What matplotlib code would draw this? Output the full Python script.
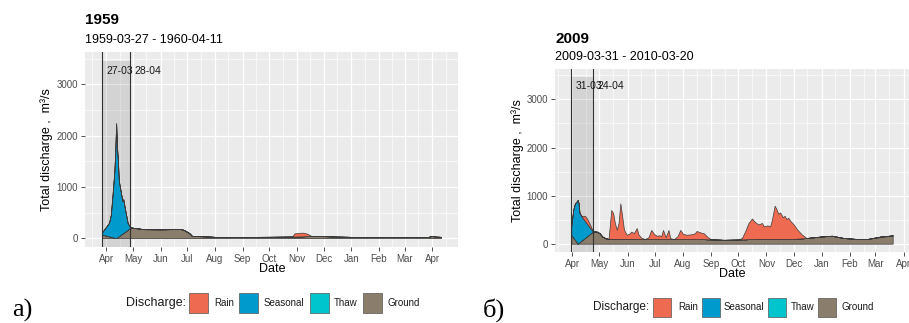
import matplotlib
matplotlib.use('Agg')
import matplotlib.pyplot as plt
import matplotlib.dates as mdates
from matplotlib.patches import Rectangle
from matplotlib.ticker import MultipleLocator, FixedLocator
import pandas as pd

plt.rcParams['font.family'] = ['Liberation Sans', 'DejaVu Sans']

# === 图例/颜色 ===
series_names = ['Rain', 'Seasonal', 'Thaw', 'Ground']
series_colors = {'Rain': '#EE6A50', 'Seasonal': '#009ACD', 'Thaw': '#00C5CD', 'Ground': '#8B7D6B'}

# === 1959 ===
dates_1959 = ['1959-03-27', '1959-04-04', '1959-04-06', '1959-04-08', '1959-04-10', '1959-04-11',
              '1959-04-12', '1959-04-13', '1959-04-14', '1959-04-15', '1959-04-17', '1959-04-19',
              '1959-04-20', '1959-04-21', '1959-04-23', '1959-04-25', '1959-04-28', '1959-05-02',
              '1959-05-13', '1959-06-01', '1959-06-15', '1959-06-23', '1959-06-27', '1959-07-03',
              '1959-07-06', '1959-07-20', '1959-08-01', '1959-09-01', '1959-10-01', '1959-10-27',
              '1959-10-29', '1959-11-02', '1959-11-08', '1959-11-13', '1959-11-17', '1959-12-01',
              '1959-12-15', '1960-01-01', '1960-02-01', '1960-03-01', '1960-03-28', '1960-04-01',
              '1960-04-04', '1960-04-11']
ground_1959 = [70, 35, 26, 17, 8, 4,
               0, 12, 25, 38, 63, 88,
               100, 112, 137, 162, 210, 200,
               175, 172, 176, 180, 160, 100,
               45, 35, 25, 24, 26, 30,
               30, 32, 35, 40, 45, 40,
               30, 25, 22, 22, 25, 45,
               30, 25]
seasonal_1959 = [40, 265, 430, 843, 1300, 1700,
                 2240, 1750, 1475, 1082, 857, 637,
                 660, 548, 333, 128, 0, 0,
                 0, 0, 0, 0, 0, 0,
                 0, 0, 0, 0, 0, 0,
                 0, 0, 0, 0, 0, 0,
                 0, 0, 0, 0, 0, 0,
                 0, 0]
rain_1959 = [0] * 30 + [60, 70, 72, 45, 0] + [0] * 9
thaw_1959 = [0] * 44

# === 2009 ===
dates_2009 = ['2009-03-31', '2009-04-02', '2009-04-04', '2009-04-06', '2009-04-07', '2009-04-08',
              '2009-04-09', '2009-04-11', '2009-04-13', '2009-04-15', '2009-04-17', '2009-04-19',
              '2009-04-21', '2009-04-22', '2009-04-24', '2009-04-28', '2009-05-01', '2009-05-04',
              '2009-05-08', '2009-05-11', '2009-05-14', '2009-05-16', '2009-05-18', '2009-05-20',
              '2009-05-22', '2009-05-24', '2009-05-26', '2009-05-28', '2009-05-31', '2009-06-03',
              '2009-06-05', '2009-06-08', '2009-06-11', '2009-06-13', '2009-06-16', '2009-06-20',
              '2009-06-24', '2009-06-27', '2009-06-30', '2009-07-03', '2009-07-06', '2009-07-08',
              '2009-07-10', '2009-07-13', '2009-07-16', '2009-07-18', '2009-07-22', '2009-07-26',
              '2009-07-29', '2009-08-01', '2009-08-05', '2009-08-10', '2009-08-14', '2009-08-16',
              '2009-08-20', '2009-08-24', '2009-08-28', '2009-09-01', '2009-09-15', '2009-10-01',
              '2009-10-05', '2009-10-09', '2009-10-12', '2009-10-16', '2009-10-19', '2009-10-23',
              '2009-10-27', '2009-10-29', '2009-11-02', '2009-11-05', '2009-11-07', '2009-11-10',
              '2009-11-12', '2009-11-14', '2009-11-16', '2009-11-19', '2009-11-21', '2009-11-23',
              '2009-11-25', '2009-11-27', '2009-12-01', '2009-12-05', '2009-12-10', '2009-12-15',
              '2010-01-01', '2010-01-12', '2010-01-25', '2010-02-09', '2010-02-20', '2010-03-07',
              '2010-03-20']
ground_2009 = [180, 130, 80, 30, 0, 15,
               30, 60, 90, 120, 150, 180,
               210, 225, 255, 250, 220, 150,
               110, 100, 100, 100, 100, 100,
               100, 100, 100, 100, 100, 100,
               100, 100, 100, 100, 95, 95,
               95, 95, 95, 95, 95, 95,
               95, 95, 95, 95, 95, 95,
               95, 95, 95, 95, 95, 95,
               95, 95, 90, 90, 80, 85,
               90, 90, 95, 95, 95, 100,
               100, 100, 100, 100, 100, 100,
               100, 100, 100, 100, 100, 100,
               100, 100, 100, 105, 110, 118,
               150, 165, 118, 97, 97, 140,
               172]
seasonal_2009 = [190, 570, 760, 850, 910, 825,
                 610, 520, 430, 350, 270, 190,
                 110, 70, 0] + [0] * 76
rain_2009 = [0, 0, 0, 0, 0, 0,
             0, 0, 60, 110, 110, 90,
             60, 40, 0, 0, 0, 0,
             0, 0, 600, 540, 330, 190,
             330, 740, 470, 190, 85, 110,
             150, 120, 225, 90, 30, 0,
             40, 190, 110, 70, 80, 60,
             190, 40, 190, 20, 0, 60,
             190, 110, 90, 100, 120, 170,
             140, 120, 50, 0, 0, 0,
             30, 190, 330, 430, 360, 300,
             330, 260, 280, 260, 400, 690,
             620, 520, 550, 450, 480, 410,
             440, 380, 300, 185, 80, 0,
             0, 0, 0, 0, 0, 0,
             0]
thaw_2009 = [0] * 89 + [10, 0]

# 阴影区间（季节洪水）
flood_1959 = ('1959-03-27', '1959-04-28')
flood_2009 = ('2009-03-31', '2009-04-24')

W, H = 909, 323
fig = plt.figure(figsize=(W / 100, H / 100), dpi=100)


def px_axes(left, top, right, bottom):
    return fig.add_axes([left / W, 1 - bottom / H, (right - left) / W, (bottom - top) / H])


def draw_panel(ax, dates, ground, thaw, seasonal, rain, flood, xlim):
    d = pd.to_datetime(dates)
    ylim = (-173, 3633)
    ax.set_facecolor('#EBEBEB')
    ax.stackplot(d, ground, thaw, seasonal, rain,
                 colors=[series_colors['Ground'], series_colors['Thaw'],
                         series_colors['Seasonal'], series_colors['Rain']],
                 edgecolor='#3A3A3A', linewidth=0.5, zorder=3)
    s, e = pd.to_datetime(flood[0]), pd.to_datetime(flood[1])
    ax.fill_between([s, e], ylim[0], 3460, color='black', alpha=0.1, lw=0, zorder=2)
    for x in (s, e):
        ax.axvline(x, color='#333333', lw=0.8, zorder=4)
        ax.annotate(x.strftime('%d-%m'), xy=(x, 3270), xytext=(3, 0), textcoords='offset points',
                    ha='left', va='center', fontsize=7.5, color='#1A1A1A', zorder=5)
    ax.set_xlim(pd.to_datetime(xlim[0]), pd.to_datetime(xlim[1]))
    ax.set_ylim(*ylim)
    ax.xaxis.set_major_locator(mdates.MonthLocator())
    ax.xaxis.set_minor_locator(mdates.MonthLocator(bymonthday=16))
    ax.xaxis.set_major_formatter(mdates.DateFormatter('%b'))
    ax.yaxis.set_major_locator(FixedLocator([0, 1000, 2000, 3000]))
    ax.yaxis.set_minor_locator(MultipleLocator(500))
    ax.grid(which='major', color='white', lw=0.9)
    ax.grid(which='minor', color='white', lw=0.45)
    ax.set_axisbelow(True)
    for sp in ax.spines.values():
        sp.set_visible(False)
    ax.tick_params(which='major', direction='out', length=3, width=0.6, color='#333333',
                   labelcolor='#4D4D4D', labelsize=7, pad=2)
    ax.tick_params(which='minor', length=0)


def draw_legend(label_x, label_y, key_lefts, text_lefts, key_w, key_h, title_size):
    fig.text(label_x / W, 1 - label_y / H, 'Discharge:', fontsize=title_size, ha='left', va='center',
             color='#1A1A1A')
    for name, kx, tx in zip(series_names, key_lefts, text_lefts):
        fig.add_artist(Rectangle((kx / W, 1 - (label_y + key_h / 2) / H), key_w / W, key_h / H,
                                 transform=fig.transFigure, facecolor=series_colors[name],
                                 edgecolor='#555555', lw=0.5))
        fig.text(tx / W, 1 - label_y / H, name, fontsize=7, ha='left', va='center', color='#1A1A1A')


# 左图 1959
ax1 = px_axes(85, 52, 458, 247)
draw_panel(ax1, dates_1959, ground_1959, thaw_1959, seasonal_1959, rain_1959, flood_1959,
           ('1959-03-08', '1960-04-30'))
fig.text(85 / W, 1 - 20.5 / H, '1959', fontsize=11, fontweight='bold', ha='left', va='center')
fig.text(85 / W, 1 - 40 / H, '1959-03-27 - 1960-04-11', fontsize=9, ha='left', va='center')
fig.text(272 / W, 1 - 269 / H, 'Date', fontsize=9, ha='center', va='center')
fig.text(47 / W, 1 - 149.5 / H, 'Total discharge ,  m³/s', fontsize=9, rotation=90, ha='center', va='center')
draw_legend(126, 303, [189, 239, 310, 363], [214, 264, 334, 387], 19, 20, 9)
fig.text(12 / W, 1 - 310 / H, 'а)', fontsize=19, family='Liberation Serif', ha='left', va='center')

# 右图 2009
ax2 = px_axes(555, 69, 909, 252)
draw_panel(ax2, dates_2009, ground_2009, thaw_2009, seasonal_2009, rain_2009, flood_2009,
           ('2009-03-13', '2010-04-07'))
fig.text(555 / W, 1 - 39 / H, '2009', fontsize=11, fontweight='bold', ha='left', va='center')
fig.text(555 / W, 1 - 57.5 / H, '2009-03-31 - 2010-03-20', fontsize=9, ha='left', va='center')
fig.text(732 / W, 1 - 274 / H, 'Date', fontsize=9, ha='center', va='center')
fig.text(518 / W, 1 - 160.5 / H, 'Total discharge ,  m³/s', fontsize=9, rotation=90, ha='center', va='center')
draw_legend(593, 307, [653, 702, 768, 818], [678, 724, 791, 841], 18, 19, 8.5)
fig.text(483 / W, 1 - 310 / H, 'б)', fontsize=19, family='Liberation Serif', ha='left', va='center')

fig.savefig('out.png', dpi=100)
